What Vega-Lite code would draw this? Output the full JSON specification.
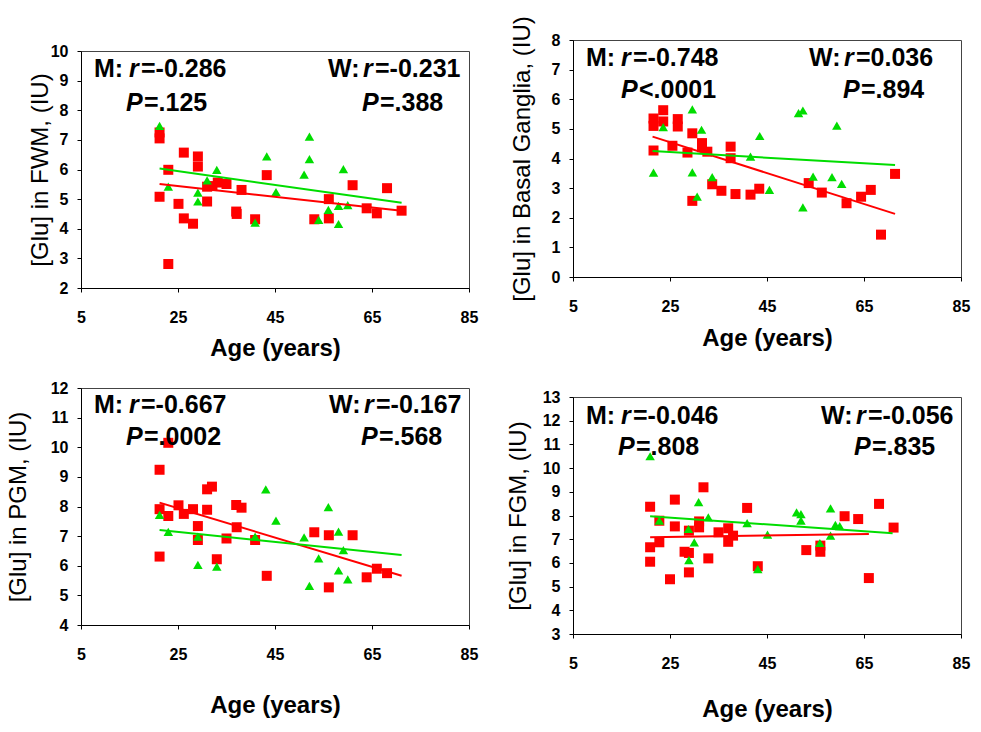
{
"$schema": "https://vega.github.io/schema/vega-lite/v6.json",
"background": "white",
"padding": {"left": 5, "top": 15, "right": 5, "bottom": 5},
"datasets": {
"points": [
{"panel":"FWM","sex":"M","age":21.2,"glu":7.25},{"panel":"FWM","sex":"M","age":21.2,"glu":7.05},{"panel":"FWM","sex":"M","age":21.2,"glu":5.08},{"panel":"FWM","sex":"M","age":23.0,"glu":5.99},{"panel":"FWM","sex":"M","age":23.0,"glu":2.81},{"panel":"FWM","sex":"M","age":25.1,"glu":4.84},{"panel":"FWM","sex":"M","age":26.2,"glu":6.57},{"panel":"FWM","sex":"M","age":26.2,"glu":4.35},{"panel":"FWM","sex":"M","age":28.1,"glu":4.17},{"panel":"FWM","sex":"M","age":29.1,"glu":6.44},{"panel":"FWM","sex":"M","age":29.1,"glu":6.1},{"panel":"FWM","sex":"M","age":31.0,"glu":4.92},{"panel":"FWM","sex":"M","age":31.0,"glu":5.42},{"panel":"FWM","sex":"M","age":32.1,"glu":5.44},{"panel":"FWM","sex":"M","age":33.2,"glu":5.56},{"panel":"FWM","sex":"M","age":35.0,"glu":5.51},{"panel":"FWM","sex":"M","age":37.0,"glu":4.58},{"panel":"FWM","sex":"M","age":37.1,"glu":4.5},{"panel":"FWM","sex":"M","age":38.1,"glu":5.31},{"panel":"FWM","sex":"M","age":40.9,"glu":4.32},{"panel":"FWM","sex":"M","age":43.3,"glu":5.81},{"panel":"FWM","sex":"M","age":53.1,"glu":4.32},{"panel":"FWM","sex":"M","age":56.1,"glu":5.0},{"panel":"FWM","sex":"M","age":56.1,"glu":4.35},{"panel":"FWM","sex":"M","age":61.0,"glu":5.47},{"panel":"FWM","sex":"M","age":63.9,"glu":4.69},{"panel":"FWM","sex":"M","age":66.0,"glu":4.52},{"panel":"FWM","sex":"M","age":68.1,"glu":5.37},{"panel":"FWM","sex":"M","age":71.1,"glu":4.61},
{"panel":"FWM","sex":"W","age":21.2,"glu":7.47},{"panel":"FWM","sex":"W","age":23.0,"glu":5.42},{"panel":"FWM","sex":"W","age":29.1,"glu":5.22},{"panel":"FWM","sex":"W","age":29.1,"glu":4.92},{"panel":"FWM","sex":"W","age":31.0,"glu":5.63},{"panel":"FWM","sex":"W","age":33.0,"glu":5.99},{"panel":"FWM","sex":"W","age":40.9,"glu":4.21},{"panel":"FWM","sex":"W","age":43.3,"glu":6.44},{"panel":"FWM","sex":"W","age":45.2,"glu":5.24},{"panel":"FWM","sex":"W","age":51.0,"glu":5.83},{"panel":"FWM","sex":"W","age":52.1,"glu":7.11},{"panel":"FWM","sex":"W","age":52.1,"glu":6.35},{"panel":"FWM","sex":"W","age":54.0,"glu":4.3},{"panel":"FWM","sex":"W","age":56.0,"glu":4.64},{"panel":"FWM","sex":"W","age":58.1,"glu":4.77},{"panel":"FWM","sex":"W","age":58.1,"glu":4.16},{"panel":"FWM","sex":"W","age":59.1,"glu":6.01},{"panel":"FWM","sex":"W","age":60.0,"glu":4.8},
{"panel":"BG","sex":"M","age":21.6,"glu":5.35},{"panel":"BG","sex":"M","age":21.6,"glu":5.1},{"panel":"BG","sex":"M","age":21.6,"glu":4.27},{"panel":"BG","sex":"M","age":23.6,"glu":5.63},{"panel":"BG","sex":"M","age":23.6,"glu":5.25},{"panel":"BG","sex":"M","age":25.5,"glu":4.43},{"panel":"BG","sex":"M","age":26.6,"glu":5.33},{"panel":"BG","sex":"M","age":26.6,"glu":5.08},{"panel":"BG","sex":"M","age":28.6,"glu":4.2},{"panel":"BG","sex":"M","age":29.6,"glu":4.85},{"panel":"BG","sex":"M","age":29.6,"glu":2.57},{"panel":"BG","sex":"M","age":31.6,"glu":4.52},{"panel":"BG","sex":"M","age":31.6,"glu":4.38},{"panel":"BG","sex":"M","age":32.7,"glu":4.23},{"panel":"BG","sex":"M","age":33.7,"glu":3.13},{"panel":"BG","sex":"M","age":35.6,"glu":2.91},{"panel":"BG","sex":"M","age":37.5,"glu":4.4},{"panel":"BG","sex":"M","age":37.5,"glu":4.01},{"panel":"BG","sex":"M","age":38.5,"glu":2.8},{"panel":"BG","sex":"M","age":41.6,"glu":2.78},{"panel":"BG","sex":"M","age":43.4,"glu":2.98},{"panel":"BG","sex":"M","age":53.6,"glu":3.17},{"panel":"BG","sex":"M","age":56.3,"glu":2.85},{"panel":"BG","sex":"M","age":61.4,"glu":2.49},{"panel":"BG","sex":"M","age":64.4,"glu":2.71},{"panel":"BG","sex":"M","age":66.4,"glu":2.94},{"panel":"BG","sex":"M","age":68.5,"glu":1.43},{"panel":"BG","sex":"M","age":71.4,"glu":3.48},
{"panel":"BG","sex":"W","age":21.6,"glu":3.52},{"panel":"BG","sex":"W","age":23.6,"glu":5.06},{"panel":"BG","sex":"W","age":29.6,"glu":5.66},{"panel":"BG","sex":"W","age":29.6,"glu":3.53},{"panel":"BG","sex":"W","age":30.6,"glu":2.71},{"panel":"BG","sex":"W","age":31.5,"glu":4.97},{"panel":"BG","sex":"W","age":33.7,"glu":3.37},{"panel":"BG","sex":"W","age":41.6,"glu":4.06},{"panel":"BG","sex":"W","age":43.5,"glu":4.76},{"panel":"BG","sex":"W","age":45.5,"glu":2.94},{"panel":"BG","sex":"W","age":51.5,"glu":5.53},{"panel":"BG","sex":"W","age":52.4,"glu":5.62},{"panel":"BG","sex":"W","age":52.4,"glu":2.35},{"panel":"BG","sex":"W","age":54.5,"glu":3.39},{"panel":"BG","sex":"W","age":58.4,"glu":3.37},{"panel":"BG","sex":"W","age":59.4,"glu":5.11},{"panel":"BG","sex":"W","age":60.4,"glu":3.14},
{"panel":"PGM","sex":"M","age":21.2,"glu":9.24},{"panel":"PGM","sex":"M","age":21.2,"glu":7.91},{"panel":"PGM","sex":"M","age":21.2,"glu":6.31},{"panel":"PGM","sex":"M","age":23.0,"glu":10.15},{"panel":"PGM","sex":"M","age":23.0,"glu":7.68},{"panel":"PGM","sex":"M","age":25.1,"glu":8.04},{"panel":"PGM","sex":"M","age":26.2,"glu":7.75},{"panel":"PGM","sex":"M","age":28.1,"glu":7.91},{"panel":"PGM","sex":"M","age":29.1,"glu":7.34},{"panel":"PGM","sex":"M","age":29.1,"glu":6.87},{"panel":"PGM","sex":"M","age":31.0,"glu":8.58},{"panel":"PGM","sex":"M","age":32.0,"glu":8.67},{"panel":"PGM","sex":"M","age":31.0,"glu":7.89},{"panel":"PGM","sex":"M","age":33.0,"glu":6.22},{"panel":"PGM","sex":"M","age":35.0,"glu":6.92},{"panel":"PGM","sex":"M","age":37.0,"glu":8.05},{"panel":"PGM","sex":"M","age":38.1,"glu":7.96},{"panel":"PGM","sex":"M","age":37.1,"glu":7.3},{"panel":"PGM","sex":"M","age":40.9,"glu":6.87},{"panel":"PGM","sex":"M","age":43.3,"glu":5.66},{"panel":"PGM","sex":"M","age":53.1,"glu":7.13},{"panel":"PGM","sex":"M","age":56.1,"glu":7.03},{"panel":"PGM","sex":"M","age":56.1,"glu":5.27},{"panel":"PGM","sex":"M","age":61.0,"glu":7.03},{"panel":"PGM","sex":"M","age":63.9,"glu":5.61},{"panel":"PGM","sex":"M","age":66.0,"glu":5.9},{"panel":"PGM","sex":"M","age":68.1,"glu":5.75},
{"panel":"PGM","sex":"W","age":21.2,"glu":7.72},{"panel":"PGM","sex":"W","age":23.0,"glu":7.14},{"panel":"PGM","sex":"W","age":29.1,"glu":6.03},{"panel":"PGM","sex":"W","age":29.1,"glu":6.98},{"panel":"PGM","sex":"W","age":33.0,"glu":5.97},{"panel":"PGM","sex":"W","age":40.9,"glu":6.98},{"panel":"PGM","sex":"W","age":43.1,"glu":8.58},{"panel":"PGM","sex":"W","age":45.2,"glu":7.52},{"panel":"PGM","sex":"W","age":51.0,"glu":6.96},{"panel":"PGM","sex":"W","age":52.1,"glu":5.32},{"panel":"PGM","sex":"W","age":54.0,"glu":6.25},{"panel":"PGM","sex":"W","age":56.0,"glu":7.98},{"panel":"PGM","sex":"W","age":58.1,"glu":7.15},{"panel":"PGM","sex":"W","age":58.1,"glu":5.84},{"panel":"PGM","sex":"W","age":59.1,"glu":6.53},{"panel":"PGM","sex":"W","age":60.0,"glu":5.54},
{"panel":"FGM","sex":"M","age":20.9,"glu":8.37},{"panel":"FGM","sex":"M","age":20.9,"glu":6.66},{"panel":"FGM","sex":"M","age":20.9,"glu":6.05},{"panel":"FGM","sex":"M","age":22.8,"glu":7.78},{"panel":"FGM","sex":"M","age":22.8,"glu":6.87},{"panel":"FGM","sex":"M","age":25.0,"glu":5.31},{"panel":"FGM","sex":"M","age":26.0,"glu":8.67},{"panel":"FGM","sex":"M","age":26.0,"glu":7.54},{"panel":"FGM","sex":"M","age":28.0,"glu":6.47},{"panel":"FGM","sex":"M","age":28.9,"glu":7.36},{"panel":"FGM","sex":"M","age":28.9,"glu":6.42},{"panel":"FGM","sex":"M","age":28.9,"glu":5.6},{"panel":"FGM","sex":"M","age":31.0,"glu":7.5},{"panel":"FGM","sex":"M","age":31.0,"glu":7.75},{"panel":"FGM","sex":"M","age":31.9,"glu":9.19},{"panel":"FGM","sex":"M","age":32.9,"glu":6.19},{"panel":"FGM","sex":"M","age":35.0,"glu":7.29},{"panel":"FGM","sex":"M","age":37.0,"glu":7.46},{"panel":"FGM","sex":"M","age":37.0,"glu":6.89},{"panel":"FGM","sex":"M","age":38.0,"glu":7.15},{"panel":"FGM","sex":"M","age":40.9,"glu":8.32},{"panel":"FGM","sex":"M","age":43.1,"glu":5.86},{"panel":"FGM","sex":"M","age":53.1,"glu":6.54},{"panel":"FGM","sex":"M","age":56.0,"glu":6.73},{"panel":"FGM","sex":"M","age":56.0,"glu":6.47},{"panel":"FGM","sex":"M","age":61.0,"glu":7.97},{"panel":"FGM","sex":"M","age":63.8,"glu":7.85},{"panel":"FGM","sex":"M","age":66.0,"glu":5.36},{"panel":"FGM","sex":"M","age":68.1,"glu":8.49},{"panel":"FGM","sex":"M","age":71.1,"glu":7.49},
{"panel":"FGM","sex":"W","age":20.9,"glu":10.5},{"panel":"FGM","sex":"W","age":22.8,"glu":7.78},{"panel":"FGM","sex":"W","age":28.8,"glu":7.43},{"panel":"FGM","sex":"W","age":28.9,"glu":6.12},{"panel":"FGM","sex":"W","age":30.0,"glu":6.87},{"panel":"FGM","sex":"W","age":30.9,"glu":8.56},{"panel":"FGM","sex":"W","age":32.9,"glu":7.92},{"panel":"FGM","sex":"W","age":40.9,"glu":7.68},{"panel":"FGM","sex":"W","age":43.1,"glu":5.74},{"panel":"FGM","sex":"W","age":45.1,"glu":7.19},{"panel":"FGM","sex":"W","age":51.1,"glu":8.13},{"panel":"FGM","sex":"W","age":52.0,"glu":8.06},{"panel":"FGM","sex":"W","age":52.0,"glu":7.78},{"panel":"FGM","sex":"W","age":55.9,"glu":6.84},{"panel":"FGM","sex":"W","age":58.1,"glu":8.3},{"panel":"FGM","sex":"W","age":58.1,"glu":7.15},{"panel":"FGM","sex":"W","age":59.1,"glu":7.6},{"panel":"FGM","sex":"W","age":60.0,"glu":7.55}
],
"fits": [
{"panel":"FWM","sex":"M","age":21.2,"glu":5.51},{"panel":"FWM","sex":"M","age":71.1,"glu":4.61},
{"panel":"FWM","sex":"W","age":21.2,"glu":6.03},{"panel":"FWM","sex":"W","age":71.1,"glu":4.88},
{"panel":"BG","sex":"M","age":21.4,"glu":4.74},{"panel":"BG","sex":"M","age":71.4,"glu":2.13},
{"panel":"BG","sex":"W","age":21.4,"glu":4.25},{"panel":"BG","sex":"W","age":71.4,"glu":3.78},
{"panel":"PGM","sex":"M","age":21.2,"glu":8.13},{"panel":"PGM","sex":"M","age":71.1,"glu":5.66},
{"panel":"PGM","sex":"W","age":21.2,"glu":7.21},{"panel":"PGM","sex":"W","age":71.1,"glu":6.36},
{"panel":"FGM","sex":"M","age":20.9,"glu":7.08},{"panel":"FGM","sex":"M","age":66.0,"glu":7.22},
{"panel":"FGM","sex":"W","age":20.9,"glu":7.97},{"panel":"FGM","sex":"W","age":70.9,"glu":7.25}
]
},
"spacing": 26,
"hconcat": [
{"vconcat": [
{"vconcat": [
{"width": 1, "height": 1, "view": {"stroke": null}, "data": {"values": [{}]}, "mark": {"type": "rect", "opacity": 0}, "encoding": {}},
{"width": 388, "height": 237,
"layer": [
{"data": {"name": "points"}, "transform": [{"filter": "datum.panel==='FWM' && datum.sex==='M'"}],
 "mark": {"type": "point", "shape": "square", "filled": true, "fill": "#ff0000", "opacity": 1, "size": 100, "strokeWidth": 0},
 "encoding": {"x": {"field": "age", "type": "quantitative", "scale": {"domain": [5, 85], "nice": false, "zero": false}, "axis": {"values": [5, 25, 45, 65, 85], "title": "Age (years)", "titlePadding": 11}},
  "y": {"field": "glu", "type": "quantitative", "scale": {"domain": [2, 10], "nice": false, "zero": false}, "axis": {"values": [2, 3, 4, 5, 6, 7, 8, 9, 10], "labelOverlap": false, "title": "[Glu] in FWM, (IU)", "titlePadding": -2}}}},
{"data": {"name": "points"}, "transform": [{"filter": "datum.panel==='FWM' && datum.sex==='W'"}],
 "mark": {"type": "point", "shape": "triangle-up", "filled": true, "fill": "#00dd00", "opacity": 1, "size": 90, "strokeWidth": 0},
 "encoding": {"x": {"field": "age", "type": "quantitative"}, "y": {"field": "glu", "type": "quantitative", "axis": {"values": [2, 3, 4, 5, 6, 7, 8, 9, 10], "labelOverlap": false, "title": "[Glu] in FWM, (IU)", "titlePadding": -2}}}},
{"data": {"name": "fits"}, "transform": [{"filter": "datum.panel==='FWM' && datum.sex==='M'"}],
 "mark": {"type": "line", "color": "#ff0000", "strokeWidth": 2},
 "encoding": {"x": {"field": "age", "type": "quantitative"}, "y": {"field": "glu", "type": "quantitative", "axis": {"values": [2, 3, 4, 5, 6, 7, 8, 9, 10], "labelOverlap": false, "title": "[Glu] in FWM, (IU)", "titlePadding": -2}}}},
{"data": {"name": "fits"}, "transform": [{"filter": "datum.panel==='FWM' && datum.sex==='W'"}],
 "mark": {"type": "line", "color": "#00dd00", "strokeWidth": 2},
 "encoding": {"x": {"field": "age", "type": "quantitative"}, "y": {"field": "glu", "type": "quantitative", "axis": {"values": [2, 3, 4, 5, 6, 7, 8, 9, 10], "labelOverlap": false, "title": "[Glu] in FWM, (IU)", "titlePadding": -2}}}},
{"data": {"values": [{}]}, "mark": {"type": "text", "text": "M:", "align": "left", "baseline": "middle"}, "encoding": {"x": {"datum": 7.68, "type": "quantitative"}, "y": {"datum": 9.4, "type": "quantitative", "axis": {"values": [2, 3, 4, 5, 6, 7, 8, 9, 10], "labelOverlap": false, "title": "[Glu] in FWM, (IU)", "titlePadding": -2}}}},
{"data": {"values": [{}]}, "mark": {"type": "text", "text": "r", "fontStyle": "italic", "align": "left", "baseline": "middle", "dx": 35}, "encoding": {"x": {"datum": 7.68, "type": "quantitative"}, "y": {"datum": 9.4, "type": "quantitative", "axis": {"values": [2, 3, 4, 5, 6, 7, 8, 9, 10], "labelOverlap": false, "title": "[Glu] in FWM, (IU)", "titlePadding": -2}}}},
{"data": {"values": [{}]}, "mark": {"type": "text", "text": "=-0.286", "align": "left", "baseline": "middle", "dx": 47}, "encoding": {"x": {"datum": 7.68, "type": "quantitative"}, "y": {"datum": 9.4, "type": "quantitative", "axis": {"values": [2, 3, 4, 5, 6, 7, 8, 9, 10], "labelOverlap": false, "title": "[Glu] in FWM, (IU)", "titlePadding": -2}}}},
{"data": {"values": [{}]}, "mark": {"type": "text", "text": "P", "fontStyle": "italic", "align": "left", "baseline": "middle"}, "encoding": {"x": {"datum": 14.28, "type": "quantitative"}, "y": {"datum": 8.25, "type": "quantitative", "axis": {"values": [2, 3, 4, 5, 6, 7, 8, 9, 10], "labelOverlap": false, "title": "[Glu] in FWM, (IU)", "titlePadding": -2}}}},
{"data": {"values": [{}]}, "mark": {"type": "text", "text": "=.125", "align": "left", "baseline": "middle", "dx": 18}, "encoding": {"x": {"datum": 14.28, "type": "quantitative"}, "y": {"datum": 8.25, "type": "quantitative", "axis": {"values": [2, 3, 4, 5, 6, 7, 8, 9, 10], "labelOverlap": false, "title": "[Glu] in FWM, (IU)", "titlePadding": -2}}}},
{"data": {"values": [{}]}, "mark": {"type": "text", "text": "W:", "align": "left", "baseline": "middle"}, "encoding": {"x": {"datum": 55.93, "type": "quantitative"}, "y": {"datum": 9.4, "type": "quantitative", "axis": {"values": [2, 3, 4, 5, 6, 7, 8, 9, 10], "labelOverlap": false, "title": "[Glu] in FWM, (IU)", "titlePadding": -2}}}},
{"data": {"values": [{}]}, "mark": {"type": "text", "text": "r", "fontStyle": "italic", "align": "left", "baseline": "middle", "dx": 35}, "encoding": {"x": {"datum": 55.93, "type": "quantitative"}, "y": {"datum": 9.4, "type": "quantitative", "axis": {"values": [2, 3, 4, 5, 6, 7, 8, 9, 10], "labelOverlap": false, "title": "[Glu] in FWM, (IU)", "titlePadding": -2}}}},
{"data": {"values": [{}]}, "mark": {"type": "text", "text": "=-0.231", "align": "left", "baseline": "middle", "dx": 47}, "encoding": {"x": {"datum": 55.93, "type": "quantitative"}, "y": {"datum": 9.4, "type": "quantitative", "axis": {"values": [2, 3, 4, 5, 6, 7, 8, 9, 10], "labelOverlap": false, "title": "[Glu] in FWM, (IU)", "titlePadding": -2}}}},
{"data": {"values": [{}]}, "mark": {"type": "text", "text": "P", "fontStyle": "italic", "align": "left", "baseline": "middle"}, "encoding": {"x": {"datum": 62.94, "type": "quantitative"}, "y": {"datum": 8.25, "type": "quantitative", "axis": {"values": [2, 3, 4, 5, 6, 7, 8, 9, 10], "labelOverlap": false, "title": "[Glu] in FWM, (IU)", "titlePadding": -2}}}},
{"data": {"values": [{}]}, "mark": {"type": "text", "text": "=.388", "align": "left", "baseline": "middle", "dx": 18}, "encoding": {"x": {"datum": 62.94, "type": "quantitative"}, "y": {"datum": 8.25, "type": "quantitative", "axis": {"values": [2, 3, 4, 5, 6, 7, 8, 9, 10], "labelOverlap": false, "title": "[Glu] in FWM, (IU)", "titlePadding": -2}}}}
]}
], "spacing": 1},
{"width": 388, "height": 237,
"layer": [
{"data": {"name": "points"}, "transform": [{"filter": "datum.panel==='PGM' && datum.sex==='M'"}],
 "mark": {"type": "point", "shape": "square", "filled": true, "fill": "#ff0000", "opacity": 1, "size": 100, "strokeWidth": 0},
 "encoding": {"x": {"field": "age", "type": "quantitative", "scale": {"domain": [5, 85], "nice": false, "zero": false}, "axis": {"values": [5, 25, 45, 65, 85], "title": "Age (years)", "titlePadding": 31}},
  "y": {"field": "glu", "type": "quantitative", "scale": {"domain": [4, 12], "nice": false, "zero": false}, "axis": {"values": [4, 5, 6, 7, 8, 9, 10, 11, 12], "labelOverlap": false, "title": "[Glu] in PGM, (IU)", "titlePadding": 20}}}},
{"data": {"name": "points"}, "transform": [{"filter": "datum.panel==='PGM' && datum.sex==='W'"}],
 "mark": {"type": "point", "shape": "triangle-up", "filled": true, "fill": "#00dd00", "opacity": 1, "size": 90, "strokeWidth": 0},
 "encoding": {"x": {"field": "age", "type": "quantitative"}, "y": {"field": "glu", "type": "quantitative", "axis": {"values": [4, 5, 6, 7, 8, 9, 10, 11, 12], "labelOverlap": false, "title": "[Glu] in PGM, (IU)", "titlePadding": 20}}}},
{"data": {"name": "fits"}, "transform": [{"filter": "datum.panel==='PGM' && datum.sex==='M'"}],
 "mark": {"type": "line", "color": "#ff0000", "strokeWidth": 2},
 "encoding": {"x": {"field": "age", "type": "quantitative"}, "y": {"field": "glu", "type": "quantitative", "axis": {"values": [4, 5, 6, 7, 8, 9, 10, 11, 12], "labelOverlap": false, "title": "[Glu] in PGM, (IU)", "titlePadding": 20}}}},
{"data": {"name": "fits"}, "transform": [{"filter": "datum.panel==='PGM' && datum.sex==='W'"}],
 "mark": {"type": "line", "color": "#00dd00", "strokeWidth": 2},
 "encoding": {"x": {"field": "age", "type": "quantitative"}, "y": {"field": "glu", "type": "quantitative", "axis": {"values": [4, 5, 6, 7, 8, 9, 10, 11, 12], "labelOverlap": false, "title": "[Glu] in PGM, (IU)", "titlePadding": 20}}}},
{"data": {"values": [{}]}, "mark": {"type": "text", "text": "M:", "align": "left", "baseline": "middle"}, "encoding": {"x": {"datum": 7.68, "type": "quantitative"}, "y": {"datum": 11.43, "type": "quantitative", "axis": {"values": [4, 5, 6, 7, 8, 9, 10, 11, 12], "labelOverlap": false, "title": "[Glu] in PGM, (IU)", "titlePadding": 20}}}},
{"data": {"values": [{}]}, "mark": {"type": "text", "text": "r", "fontStyle": "italic", "align": "left", "baseline": "middle", "dx": 35}, "encoding": {"x": {"datum": 7.68, "type": "quantitative"}, "y": {"datum": 11.43, "type": "quantitative", "axis": {"values": [4, 5, 6, 7, 8, 9, 10, 11, 12], "labelOverlap": false, "title": "[Glu] in PGM, (IU)", "titlePadding": 20}}}},
{"data": {"values": [{}]}, "mark": {"type": "text", "text": "=-0.667", "align": "left", "baseline": "middle", "dx": 47}, "encoding": {"x": {"datum": 7.68, "type": "quantitative"}, "y": {"datum": 11.43, "type": "quantitative", "axis": {"values": [4, 5, 6, 7, 8, 9, 10, 11, 12], "labelOverlap": false, "title": "[Glu] in PGM, (IU)", "titlePadding": 20}}}},
{"data": {"values": [{}]}, "mark": {"type": "text", "text": "P", "fontStyle": "italic", "align": "left", "baseline": "middle"}, "encoding": {"x": {"datum": 14.28, "type": "quantitative"}, "y": {"datum": 10.35, "type": "quantitative", "axis": {"values": [4, 5, 6, 7, 8, 9, 10, 11, 12], "labelOverlap": false, "title": "[Glu] in PGM, (IU)", "titlePadding": 20}}}},
{"data": {"values": [{}]}, "mark": {"type": "text", "text": "=.0002", "align": "left", "baseline": "middle", "dx": 18}, "encoding": {"x": {"datum": 14.28, "type": "quantitative"}, "y": {"datum": 10.35, "type": "quantitative", "axis": {"values": [4, 5, 6, 7, 8, 9, 10, 11, 12], "labelOverlap": false, "title": "[Glu] in PGM, (IU)", "titlePadding": 20}}}},
{"data": {"values": [{}]}, "mark": {"type": "text", "text": "W:", "align": "left", "baseline": "middle"}, "encoding": {"x": {"datum": 56.13, "type": "quantitative"}, "y": {"datum": 11.43, "type": "quantitative", "axis": {"values": [4, 5, 6, 7, 8, 9, 10, 11, 12], "labelOverlap": false, "title": "[Glu] in PGM, (IU)", "titlePadding": 20}}}},
{"data": {"values": [{}]}, "mark": {"type": "text", "text": "r", "fontStyle": "italic", "align": "left", "baseline": "middle", "dx": 35}, "encoding": {"x": {"datum": 56.13, "type": "quantitative"}, "y": {"datum": 11.43, "type": "quantitative", "axis": {"values": [4, 5, 6, 7, 8, 9, 10, 11, 12], "labelOverlap": false, "title": "[Glu] in PGM, (IU)", "titlePadding": 20}}}},
{"data": {"values": [{}]}, "mark": {"type": "text", "text": "=-0.167", "align": "left", "baseline": "middle", "dx": 47}, "encoding": {"x": {"datum": 56.13, "type": "quantitative"}, "y": {"datum": 11.43, "type": "quantitative", "axis": {"values": [4, 5, 6, 7, 8, 9, 10, 11, 12], "labelOverlap": false, "title": "[Glu] in PGM, (IU)", "titlePadding": 20}}}},
{"data": {"values": [{}]}, "mark": {"type": "text", "text": "P", "fontStyle": "italic", "align": "left", "baseline": "middle"}, "encoding": {"x": {"datum": 62.73, "type": "quantitative"}, "y": {"datum": 10.35, "type": "quantitative", "axis": {"values": [4, 5, 6, 7, 8, 9, 10, 11, 12], "labelOverlap": false, "title": "[Glu] in PGM, (IU)", "titlePadding": 20}}}},
{"data": {"values": [{}]}, "mark": {"type": "text", "text": "=.568", "align": "left", "baseline": "middle", "dx": 18}, "encoding": {"x": {"datum": 62.73, "type": "quantitative"}, "y": {"datum": 10.35, "type": "quantitative", "axis": {"values": [4, 5, 6, 7, 8, 9, 10, 11, 12], "labelOverlap": false, "title": "[Glu] in PGM, (IU)", "titlePadding": 20}}}}
]}
], "spacing": 18},
{"vconcat": [
{"width": 388, "height": 237,
"layer": [
{"data": {"name": "points"}, "transform": [{"filter": "datum.panel==='BG' && datum.sex==='M'"}],
 "mark": {"type": "point", "shape": "square", "filled": true, "fill": "#ff0000", "opacity": 1, "size": 100, "strokeWidth": 0},
 "encoding": {"x": {"field": "age", "type": "quantitative", "scale": {"domain": [5, 85], "nice": false, "zero": false}, "axis": {"values": [5, 25, 45, 65, 85], "title": "Age (years)", "titlePadding": 12}},
  "y": {"field": "glu", "type": "quantitative", "scale": {"domain": [0, 8], "nice": false, "zero": false}, "axis": {"values": [0, 1, 2, 3, 4, 5, 6, 7, 8], "labelOverlap": false, "title": "[Glu] in Basal Ganglia, (IU)", "titlePadding": 17}}}},
{"data": {"name": "points"}, "transform": [{"filter": "datum.panel==='BG' && datum.sex==='W'"}],
 "mark": {"type": "point", "shape": "triangle-up", "filled": true, "fill": "#00dd00", "opacity": 1, "size": 90, "strokeWidth": 0},
 "encoding": {"x": {"field": "age", "type": "quantitative"}, "y": {"field": "glu", "type": "quantitative", "axis": {"values": [0, 1, 2, 3, 4, 5, 6, 7, 8], "labelOverlap": false, "title": "[Glu] in Basal Ganglia, (IU)", "titlePadding": 17}}}},
{"data": {"name": "fits"}, "transform": [{"filter": "datum.panel==='BG' && datum.sex==='M'"}],
 "mark": {"type": "line", "color": "#ff0000", "strokeWidth": 2},
 "encoding": {"x": {"field": "age", "type": "quantitative"}, "y": {"field": "glu", "type": "quantitative", "axis": {"values": [0, 1, 2, 3, 4, 5, 6, 7, 8], "labelOverlap": false, "title": "[Glu] in Basal Ganglia, (IU)", "titlePadding": 17}}}},
{"data": {"name": "fits"}, "transform": [{"filter": "datum.panel==='BG' && datum.sex==='W'"}],
 "mark": {"type": "line", "color": "#00dd00", "strokeWidth": 2},
 "encoding": {"x": {"field": "age", "type": "quantitative"}, "y": {"field": "glu", "type": "quantitative", "axis": {"values": [0, 1, 2, 3, 4, 5, 6, 7, 8], "labelOverlap": false, "title": "[Glu] in Basal Ganglia, (IU)", "titlePadding": 17}}}},
{"data": {"values": [{}]}, "mark": {"type": "text", "text": "M:", "align": "left", "baseline": "middle"}, "encoding": {"x": {"datum": 7.68, "type": "quantitative"}, "y": {"datum": 7.4, "type": "quantitative", "axis": {"values": [0, 1, 2, 3, 4, 5, 6, 7, 8], "labelOverlap": false, "title": "[Glu] in Basal Ganglia, (IU)", "titlePadding": 17}}}},
{"data": {"values": [{}]}, "mark": {"type": "text", "text": "r", "fontStyle": "italic", "align": "left", "baseline": "middle", "dx": 35}, "encoding": {"x": {"datum": 7.68, "type": "quantitative"}, "y": {"datum": 7.4, "type": "quantitative", "axis": {"values": [0, 1, 2, 3, 4, 5, 6, 7, 8], "labelOverlap": false, "title": "[Glu] in Basal Ganglia, (IU)", "titlePadding": 17}}}},
{"data": {"values": [{}]}, "mark": {"type": "text", "text": "=-0.748", "align": "left", "baseline": "middle", "dx": 47}, "encoding": {"x": {"datum": 7.68, "type": "quantitative"}, "y": {"datum": 7.4, "type": "quantitative", "axis": {"values": [0, 1, 2, 3, 4, 5, 6, 7, 8], "labelOverlap": false, "title": "[Glu] in Basal Ganglia, (IU)", "titlePadding": 17}}}},
{"data": {"values": [{}]}, "mark": {"type": "text", "text": "P", "fontStyle": "italic", "align": "left", "baseline": "middle"}, "encoding": {"x": {"datum": 14.9, "type": "quantitative"}, "y": {"datum": 6.32, "type": "quantitative", "axis": {"values": [0, 1, 2, 3, 4, 5, 6, 7, 8], "labelOverlap": false, "title": "[Glu] in Basal Ganglia, (IU)", "titlePadding": 17}}}},
{"data": {"values": [{}]}, "mark": {"type": "text", "text": "<.0001", "align": "left", "baseline": "middle", "dx": 18}, "encoding": {"x": {"datum": 14.9, "type": "quantitative"}, "y": {"datum": 6.32, "type": "quantitative", "axis": {"values": [0, 1, 2, 3, 4, 5, 6, 7, 8], "labelOverlap": false, "title": "[Glu] in Basal Ganglia, (IU)", "titlePadding": 17}}}},
{"data": {"values": [{}]}, "mark": {"type": "text", "text": "W:", "align": "left", "baseline": "middle"}, "encoding": {"x": {"datum": 53.66, "type": "quantitative"}, "y": {"datum": 7.4, "type": "quantitative", "axis": {"values": [0, 1, 2, 3, 4, 5, 6, 7, 8], "labelOverlap": false, "title": "[Glu] in Basal Ganglia, (IU)", "titlePadding": 17}}}},
{"data": {"values": [{}]}, "mark": {"type": "text", "text": "r", "fontStyle": "italic", "align": "left", "baseline": "middle", "dx": 35}, "encoding": {"x": {"datum": 53.66, "type": "quantitative"}, "y": {"datum": 7.4, "type": "quantitative", "axis": {"values": [0, 1, 2, 3, 4, 5, 6, 7, 8], "labelOverlap": false, "title": "[Glu] in Basal Ganglia, (IU)", "titlePadding": 17}}}},
{"data": {"values": [{}]}, "mark": {"type": "text", "text": "=0.036", "align": "left", "baseline": "middle", "dx": 47}, "encoding": {"x": {"datum": 53.66, "type": "quantitative"}, "y": {"datum": 7.4, "type": "quantitative", "axis": {"values": [0, 1, 2, 3, 4, 5, 6, 7, 8], "labelOverlap": false, "title": "[Glu] in Basal Ganglia, (IU)", "titlePadding": 17}}}},
{"data": {"values": [{}]}, "mark": {"type": "text", "text": "P", "fontStyle": "italic", "align": "left", "baseline": "middle"}, "encoding": {"x": {"datum": 60.67, "type": "quantitative"}, "y": {"datum": 6.32, "type": "quantitative", "axis": {"values": [0, 1, 2, 3, 4, 5, 6, 7, 8], "labelOverlap": false, "title": "[Glu] in Basal Ganglia, (IU)", "titlePadding": 17}}}},
{"data": {"values": [{}]}, "mark": {"type": "text", "text": "=.894", "align": "left", "baseline": "middle", "dx": 18}, "encoding": {"x": {"datum": 60.67, "type": "quantitative"}, "y": {"datum": 6.32, "type": "quantitative", "axis": {"values": [0, 1, 2, 3, 4, 5, 6, 7, 8], "labelOverlap": false, "title": "[Glu] in Basal Ganglia, (IU)", "titlePadding": 17}}}}
]},
{"width": 388, "height": 237,
"layer": [
{"data": {"name": "points"}, "transform": [{"filter": "datum.panel==='FGM' && datum.sex==='M'"}],
 "mark": {"type": "point", "shape": "square", "filled": true, "fill": "#ff0000", "opacity": 1, "size": 100, "strokeWidth": 0},
 "encoding": {"x": {"field": "age", "type": "quantitative", "scale": {"domain": [5, 85], "nice": false, "zero": false}, "axis": {"values": [5, 25, 45, 65, 85], "title": "Age (years)", "titlePadding": 26}},
  "y": {"field": "glu", "type": "quantitative", "scale": {"domain": [3, 13], "nice": false, "zero": false}, "axis": {"values": [3, 4, 5, 6, 7, 8, 9, 10, 11, 12, 13], "labelOverlap": false, "title": "[Glu] in FGM, (IU)", "titlePadding": 12}}}},
{"data": {"name": "points"}, "transform": [{"filter": "datum.panel==='FGM' && datum.sex==='W'"}],
 "mark": {"type": "point", "shape": "triangle-up", "filled": true, "fill": "#00dd00", "opacity": 1, "size": 90, "strokeWidth": 0},
 "encoding": {"x": {"field": "age", "type": "quantitative"}, "y": {"field": "glu", "type": "quantitative", "axis": {"values": [3, 4, 5, 6, 7, 8, 9, 10, 11, 12, 13], "labelOverlap": false, "title": "[Glu] in FGM, (IU)", "titlePadding": 12}}}},
{"data": {"name": "fits"}, "transform": [{"filter": "datum.panel==='FGM' && datum.sex==='M'"}],
 "mark": {"type": "line", "color": "#ff0000", "strokeWidth": 2},
 "encoding": {"x": {"field": "age", "type": "quantitative"}, "y": {"field": "glu", "type": "quantitative", "axis": {"values": [3, 4, 5, 6, 7, 8, 9, 10, 11, 12, 13], "labelOverlap": false, "title": "[Glu] in FGM, (IU)", "titlePadding": 12}}}},
{"data": {"name": "fits"}, "transform": [{"filter": "datum.panel==='FGM' && datum.sex==='W'"}],
 "mark": {"type": "line", "color": "#00dd00", "strokeWidth": 2},
 "encoding": {"x": {"field": "age", "type": "quantitative"}, "y": {"field": "glu", "type": "quantitative", "axis": {"values": [3, 4, 5, 6, 7, 8, 9, 10, 11, 12, 13], "labelOverlap": false, "title": "[Glu] in FGM, (IU)", "titlePadding": 12}}}},
{"data": {"values": [{}]}, "mark": {"type": "text", "text": "M:", "align": "left", "baseline": "middle"}, "encoding": {"x": {"datum": 7.68, "type": "quantitative"}, "y": {"datum": 12.2, "type": "quantitative", "axis": {"values": [3, 4, 5, 6, 7, 8, 9, 10, 11, 12, 13], "labelOverlap": false, "title": "[Glu] in FGM, (IU)", "titlePadding": 12}}}},
{"data": {"values": [{}]}, "mark": {"type": "text", "text": "r", "fontStyle": "italic", "align": "left", "baseline": "middle", "dx": 35}, "encoding": {"x": {"datum": 7.68, "type": "quantitative"}, "y": {"datum": 12.2, "type": "quantitative", "axis": {"values": [3, 4, 5, 6, 7, 8, 9, 10, 11, 12, 13], "labelOverlap": false, "title": "[Glu] in FGM, (IU)", "titlePadding": 12}}}},
{"data": {"values": [{}]}, "mark": {"type": "text", "text": "=-0.046", "align": "left", "baseline": "middle", "dx": 47}, "encoding": {"x": {"datum": 7.68, "type": "quantitative"}, "y": {"datum": 12.2, "type": "quantitative", "axis": {"values": [3, 4, 5, 6, 7, 8, 9, 10, 11, 12, 13], "labelOverlap": false, "title": "[Glu] in FGM, (IU)", "titlePadding": 12}}}},
{"data": {"values": [{}]}, "mark": {"type": "text", "text": "P", "fontStyle": "italic", "align": "left", "baseline": "middle"}, "encoding": {"x": {"datum": 14.28, "type": "quantitative"}, "y": {"datum": 10.89, "type": "quantitative", "axis": {"values": [3, 4, 5, 6, 7, 8, 9, 10, 11, 12, 13], "labelOverlap": false, "title": "[Glu] in FGM, (IU)", "titlePadding": 12}}}},
{"data": {"values": [{}]}, "mark": {"type": "text", "text": "=.808", "align": "left", "baseline": "middle", "dx": 18}, "encoding": {"x": {"datum": 14.28, "type": "quantitative"}, "y": {"datum": 10.89, "type": "quantitative", "axis": {"values": [3, 4, 5, 6, 7, 8, 9, 10, 11, 12, 13], "labelOverlap": false, "title": "[Glu] in FGM, (IU)", "titlePadding": 12}}}},
{"data": {"values": [{}]}, "mark": {"type": "text", "text": "W:", "align": "left", "baseline": "middle"}, "encoding": {"x": {"datum": 56.13, "type": "quantitative"}, "y": {"datum": 12.2, "type": "quantitative", "axis": {"values": [3, 4, 5, 6, 7, 8, 9, 10, 11, 12, 13], "labelOverlap": false, "title": "[Glu] in FGM, (IU)", "titlePadding": 12}}}},
{"data": {"values": [{}]}, "mark": {"type": "text", "text": "r", "fontStyle": "italic", "align": "left", "baseline": "middle", "dx": 35}, "encoding": {"x": {"datum": 56.13, "type": "quantitative"}, "y": {"datum": 12.2, "type": "quantitative", "axis": {"values": [3, 4, 5, 6, 7, 8, 9, 10, 11, 12, 13], "labelOverlap": false, "title": "[Glu] in FGM, (IU)", "titlePadding": 12}}}},
{"data": {"values": [{}]}, "mark": {"type": "text", "text": "=-0.056", "align": "left", "baseline": "middle", "dx": 47}, "encoding": {"x": {"datum": 56.13, "type": "quantitative"}, "y": {"datum": 12.2, "type": "quantitative", "axis": {"values": [3, 4, 5, 6, 7, 8, 9, 10, 11, 12, 13], "labelOverlap": false, "title": "[Glu] in FGM, (IU)", "titlePadding": 12}}}},
{"data": {"values": [{}]}, "mark": {"type": "text", "text": "P", "fontStyle": "italic", "align": "left", "baseline": "middle"}, "encoding": {"x": {"datum": 62.94, "type": "quantitative"}, "y": {"datum": 10.89, "type": "quantitative", "axis": {"values": [3, 4, 5, 6, 7, 8, 9, 10, 11, 12, 13], "labelOverlap": false, "title": "[Glu] in FGM, (IU)", "titlePadding": 12}}}},
{"data": {"values": [{}]}, "mark": {"type": "text", "text": "=.835", "align": "left", "baseline": "middle", "dx": 18}, "encoding": {"x": {"datum": 62.94, "type": "quantitative"}, "y": {"datum": 10.89, "type": "quantitative", "axis": {"values": [3, 4, 5, 6, 7, 8, 9, 10, 11, 12, 13], "labelOverlap": false, "title": "[Glu] in FGM, (IU)", "titlePadding": 12}}}}
]}
], "spacing": 37}
],
"config": {
 "view": {"stroke": "#444444", "strokeWidth": 1},
 "axis": {"grid": false, "domainColor": "#000000", "tickColor": "#000000", "tickSize": 4, "labelFlush": false, "labelOverlap": false, "labelFont": "Liberation Sans Narrow, Arial Narrow, Liberation Sans, sans-serif", "labelFontWeight": "bold", "labelFontSize": 16, "labelColor": "#000000", "titleFont": "Liberation Sans, Arial, sans-serif", "titleColor": "#000000", "titleFontSize": 24},
 "axisX": {"labelPadding": 17, "titleFontWeight": "bold"},
 "axisY": {"labelPadding": 9, "titleFontWeight": "normal"},
 "text": {"font": "Liberation Sans, Arial, sans-serif", "fontSize": 25, "fontWeight": "bold", "color": "#000000"}
}
}
